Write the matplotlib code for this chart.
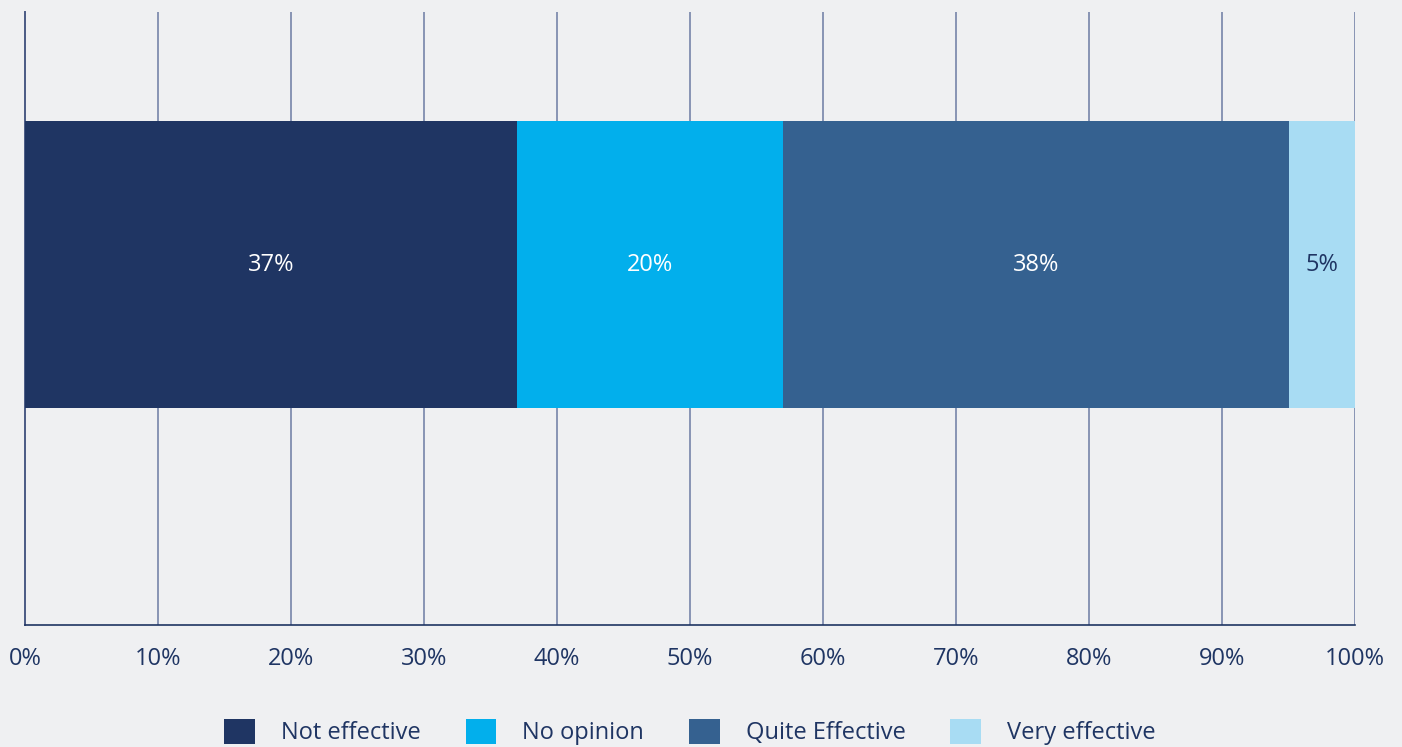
import matplotlib.pyplot as plt
from matplotlib.patches import Patch

categories = ['Not effective', 'No opinion', 'Quite Effective', 'Very effective']
values = [37, 20, 38, 5]
colors = ['#1f3563', '#02afec', '#356190', '#a8dcf3']
label_colors = ['white', 'white', 'white', '#1f3563']
ticks = [0, 10, 20, 30, 40, 50, 60, 70, 80, 90, 100]
tick_labels = [f'{t}%' for t in ticks]

navy = '#1f3563'
bg = '#eff0f2'

plt.rcParams['font.family'] = ['Open Sans', 'DejaVu Sans']

fig = plt.figure(figsize=(14.02, 7.47), dpi=100, facecolor=bg)
ax = fig.add_axes([25/1402, 122/747, 1330/1402, 613/747], facecolor=bg)

left = 0
for v, c, lc in zip(values, colors, label_colors):
    ax.barh(0, v, left=left, height=0.468, color=c, zorder=3)
    ax.text(left + v/2, 0, f'{v}%', ha='center', va='center', color=lc, fontsize=17, zorder=4)
    left += v

ax.set_xlim(0, 100)
ax.set_ylim(-0.588, 0.412)
ax.set_xticks(ticks)
ax.set_xticklabels(tick_labels, fontsize=17, color=navy)
ax.tick_params(axis='x', length=0, pad=16)
ax.set_yticks([])
for t in ticks[1:]:
    ax.axvline(t, color='#8894b4', lw=1.4, zorder=1)
for s in ['top', 'right']:
    ax.spines[s].set_visible(False)
ax.spines['left'].set_color('#4a5a85')
ax.spines['left'].set_linewidth(1.4)
ax.spines['bottom'].set_color(navy)
ax.spines['bottom'].set_linewidth(1.2)

handles = [Patch(facecolor=c, edgecolor='none') for c in colors]
fig.legend(handles, categories, loc='center', bbox_to_anchor=(0.5 - 11/1402, (747-732)/747),
           ncol=4, frameon=False, fontsize=17, labelcolor=navy,
           handlelength=1.3, handleheight=1.3, handletextpad=1.1, columnspacing=1.9)

fig.savefig('out.png', dpi=100, facecolor=bg)
